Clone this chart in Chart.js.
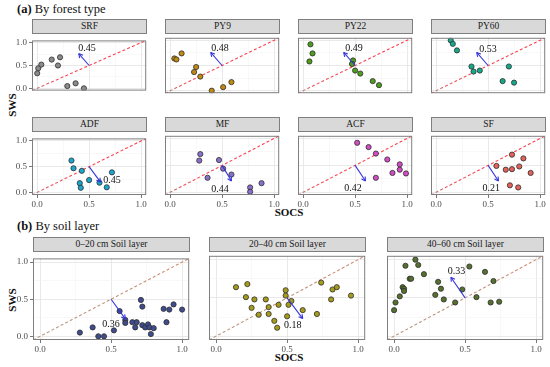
<!DOCTYPE html>
<html><head><meta charset="utf-8">
<script src="https://cdn.jsdelivr.net/npm/chart.js@4.4.1/dist/chart.umd.min.js"></script>
<style>
html,body{margin:0;padding:0;background:#fff;}
body{width:550px;height:367px;position:relative;overflow:hidden;font-family:'Liberation Serif','DejaVu Serif',serif;}
.strip{position:absolute;background:#d9d9d9;border:1px solid #7f7f7f;box-sizing:border-box;font-size:9.5px;color:#1a1a1a;text-align:center;white-space:nowrap;}
canvas{position:absolute;}
.t{position:absolute;white-space:nowrap;color:#111;}
</style></head><body>
<script>
// ---------------- DATA ----------------
const panelNames = ['SRF','PY9','PY22','PY60','ADF','MF','ACF','SF','0–20 cm Soil layer','20–40 cm Soil layer','40–60 cm Soil layer'];
const tickLabels = ['0.0','0.5','1.0'];
const tickValues = [0, 0.5, 1];
const minorValues = [0.25, 0.75];

const srfSOCS = [0.00,0.01,0.04,0.14,0.22,0.20,0.29,0.37,0.45];
const srfSWS  = [0.33,0.44,0.52,0.63,0.68,0.50,0.05,0.11,0.00];
const py9SOCS = [0.04,0.06,0.11,0.25,0.23,0.29,0.40,0.51,0.59];
const py9SWS  = [0.64,0.62,0.74,0.47,0.37,0.28,0.00,0.07,0.17];
const py22SOCS = [0.07,0.09,0.06,0.48,0.47,0.50,0.55,0.67,0.73];
const py22SWS  = [0.92,0.74,0.58,0.60,0.53,0.40,0.34,0.19,0.11];
const py60SOCS = [0.14,0.16,0.20,0.34,0.36,0.42,0.70,0.64,0.75];
const py60SWS  = [1.00,0.93,0.80,0.48,0.38,0.40,0.48,0.19,0.16];
const adfSOCS = [0.33,0.35,0.43,0.41,0.42,0.50,0.60,0.72,0.67];
const adfSWS  = [0.62,0.47,0.42,0.18,0.09,0.24,0.19,0.39,0.10];
const mfSOCS = [0.29,0.28,0.36,0.47,0.51,0.59,0.77,0.77,0.88];
const mfSWS  = [0.71,0.59,0.27,0.60,0.44,0.33,0.09,0.01,0.17];
const acfSOCS = [0.52,0.63,0.70,0.81,0.93,0.93,0.86,0.99,0.70];
const acfSWS  = [0.92,0.84,0.72,0.61,0.52,0.42,0.36,0.35,0.27];
const sfSOCS = [0.73,0.84,0.58,0.67,0.73,0.80,0.91,0.71,0.79];
const sfSWS  = [0.70,0.63,0.49,0.42,0.43,0.48,0.36,0.13,0.09];
const l1SOCS = [0.28,0.37,0.41,0.45,0.52,0.56,0.60,0.60,0.65,0.68,0.67,0.71,0.72,0.72,0.74,0.76,0.77,0.78,0.80,0.87,0.89,0.91,0.94,1.00];
const l1SWS  = [0.05,0.12,0.00,0.00,0.08,0.34,0.22,0.18,0.19,0.19,0.12,0.49,0.40,0.15,0.12,0.16,0.12,0.03,0.11,0.37,0.19,0.36,0.43,0.36];
const l2SOCS = [0.14,0.22,0.21,0.27,0.25,0.30,0.35,0.37,0.37,0.44,0.41,0.43,0.49,0.49,0.53,0.51,0.50,0.61,0.71,0.74,0.82,0.85,0.81,0.95];
const l2SWS  = [0.64,0.68,0.51,0.48,0.37,0.28,0.48,0.38,0.29,0.41,0.20,0.11,0.60,0.53,0.46,0.41,0.26,0.34,0.29,0.70,0.61,0.64,0.48,0.53];
const l3SOCS = [0.15,0.17,0.08,0.21,0.11,0.12,0.06,0.07,0.07,0.04,0.01,0.00,0.31,0.33,0.29,0.35,0.43,0.48,0.53,0.64,0.70,0.58,0.68,0.74];
const l3SWS  = [1.00,0.93,0.92,0.81,0.75,0.75,0.64,0.62,0.59,0.52,0.44,0.34,0.71,0.62,0.54,0.48,0.44,0.61,0.91,0.84,0.72,0.51,0.44,0.45];

const arrowStartX = [0.5,0.5,0.5,0.5,0.5,0.5,0.5,0.5,0.5,0.5,0.5];
const arrowStartY = [0.5,0.5,0.5,0.5,0.5,0.5,0.5,0.5,0.5,0.5,0.5];
const arrowEndX = [0.40,0.39,0.39,0.39,0.61,0.59,0.60,0.60,0.60,0.61,0.40];
const arrowEndY = [0.76,0.76,0.76,0.76,0.20,0.21,0.21,0.21,0.235,0.23,0.77];
const shiftText = ['0.45','0.48','0.49','0.53','0.45','0.44','0.42','0.21','0.36','0.18','0.33'];
const shiftTextX = [0.48,0.48,0.49,0.50,0.72,0.48,0.48,0.53,0.50,0.54,0.44];
const shiftTextY = [0.87,0.84,0.84,0.83,0.24,0.06,0.08,0.07,0.16,0.14,0.85];

const axisMin = -0.05, axisMax = 1.05;

// ---------------- STYLE / LAYOUT ----------------
const socsData = [srfSOCS,py9SOCS,py22SOCS,py60SOCS,adfSOCS,mfSOCS,acfSOCS,sfSOCS,l1SOCS,l2SOCS,l3SOCS];
const swsData  = [srfSWS,py9SWS,py22SWS,py60SWS,adfSWS,mfSWS,acfSWS,sfSWS,l1SWS,l2SWS,l3SWS];
const colors = ['#8a8a8a','#c08a12','#4f9d1c','#15a88a','#1aa6cf','#8a70cc','#d24cc4','#e0625a','#3f4c8e','#a69c1c','#567030'];
const ARROW = '#3535e0';
const FONT = "'Liberation Serif','DejaVu Serif',serif";

const colA = [32,165,298,431];
const colB = [33,209,387];
const geo = [];
for (let i=0;i<8;i++) geo.push({x:colA[i%4], y: i<4?33:131, w:115, h:64, first:i%4===0, showX:i>=4, sec:'a'});
for (let i=0;i<3;i++) geo.push({x:colB[i], y:251, w:157, h:89, first:i===0, showX:true, sec:'b'});

function addDiv(cls, html, style){ const d=document.createElement('div'); d.className=cls; d.innerHTML=html; Object.assign(d.style, style); document.body.appendChild(d); return d; }

addDiv('t','<b>(a)</b> By forest type',{left:'17px',top:'2px',fontSize:'12.5px'});
addDiv('t','<b>(b)</b> By soil layer',{left:'17px',top:'219px',fontSize:'12.5px'});
addDiv('t','SWS',{left:'12px',top:'105px',fontSize:'11px',fontWeight:'bold',transform:'translate(-50%,-50%) rotate(-90deg)'});
addDiv('t','SWS',{left:'12px',top:'300px',fontSize:'11px',fontWeight:'bold',transform:'translate(-50%,-50%) rotate(-90deg)'});
addDiv('t','SOCS',{left:'289px',top:'212px',fontSize:'11px',fontWeight:'bold',transform:'translate(-50%,-50%)'});
addDiv('t','SOCS',{left:'289px',top:'357px',fontSize:'11px',fontWeight:'bold',transform:'translate(-50%,-50%)'});

const deco = {
  id:'deco',
  afterDatasetsDraw(chart, args, opts){
    const {ctx, chartArea:a, scales:{x,y}} = chart;
    const m = chart.getDatasetMeta(0);
    const p0 = m.data[0], p1 = m.data[1];
    const ang = Math.atan2(p1.y-p0.y, p1.x-p0.x);
    const L = 4.5;
    ctx.save();
    ctx.strokeStyle = ARROW; ctx.lineWidth = 1.1;
    ctx.beginPath();
    for (const s of [-1,1]) {
      ctx.moveTo(p1.x, p1.y);
      ctx.lineTo(p1.x - L*Math.cos(ang + s*0.5), p1.y - L*Math.sin(ang + s*0.5));
    }
    ctx.stroke();
    ctx.fillStyle = '#111';
    ctx.font = '10px ' + FONT;
    ctx.textAlign = 'center'; ctx.textBaseline = 'middle';
    ctx.fillText(opts.text, x.getPixelForValue(opts.tx), y.getPixelForValue(opts.ty));
    ctx.strokeStyle = '#7f7f7f'; ctx.lineWidth = 1;
    ctx.strokeRect(a.left+0.5, a.top+0.5, a.width-1, a.height-1);
    ctx.restore();
  }
};

function refColor(sec){
  return (c) => {
    const ch = c.chart, a = ch.chartArea;
    const base = sec==='a' ? '#ff3a48' : '#c9937a';
    if (!a) return base;
    const g = ch.ctx.createLinearGradient(a.left, a.bottom, a.right, a.top);
    if (sec==='a') { g.addColorStop(0,'#a08a80'); g.addColorStop(0.15,'#f2505e'); g.addColorStop(1,'#ff3a48'); }
    else { g.addColorStop(0,'#b89a88'); g.addColorStop(1,'#d08a70'); }
    return g;
  };
}

geo.forEach((g, i) => {
  const Lm = g.first ? g.x : 12;
  const Bm = g.showX ? 18 : 1;
  const Rm = 4;
  addDiv('strip', panelNames[i], {left:g.x+'px', top:(g.y-14)+'px', width:g.w+'px', height:'15px', lineHeight:'13px'});
  const cv = document.createElement('canvas');
  const W = g.w + Lm + Rm, H = g.h + Bm;
  cv.width = W; cv.height = H;
  cv.style.width = W+'px'; cv.style.height = H+'px';
  cv.style.left = (g.x - Lm)+'px'; cv.style.top = g.y+'px';
  document.body.appendChild(cv);

  const pts = socsData[i].map((v,k)=>({x:v, y:swsData[i][k]}));
  const arrow = [{x:arrowStartX[i], y:arrowStartY[i]}, {x:arrowEndX[i], y:arrowEndY[i]}];
  const ref = [{x:axisMin, y:axisMin}, {x:axisMax, y:axisMax}];

  const gridColor = c => (c.tick && minorValues.includes(c.tick.value)) ? '#f3f3f3' : '#e6e6e6';
  const gridWidth = c => (c.tick && minorValues.includes(c.tick.value)) ? 0.6 : 0.9;
  const tickColor = c => (c.tick && minorValues.includes(c.tick.value)) ? 'rgba(0,0,0,0)' : '#555';
  const tickCb = v => { const k = tickValues.indexOf(v); return k>=0 ? tickLabels[k] : ''; };
  const setTicks = s => { s.ticks = tickValues.concat(minorValues).sort().map(v=>({value:v})); };

  new Chart(cv, {
    type:'scatter',
    data:{datasets:[
      {data:arrow, showLine:true, borderColor:ARROW, borderWidth:1.1, pointRadius:0, order:0, clip:0},
      {data:pts, backgroundColor:colors[i], borderColor:'#2e2e2e', borderWidth:0.8, pointRadius:2.6, order:1, clip:0},
      {data:ref, showLine:true, borderColor:refColor(g.sec), borderDash:[3,2.2], borderWidth:1.1, pointRadius:0, order:2, clip:0}
    ]},
    options:{
      responsive:false, animation:false, devicePixelRatio:1,
      layout:{padding:{left:0,right:Rm,top:0,bottom:0}},
      plugins:{legend:{display:false}, tooltip:{enabled:false},
        deco:{text:shiftText[i], tx:shiftTextX[i], ty:shiftTextY[i]}},
      scales:{
        x:{type:'linear', min:axisMin, max:axisMax,
           afterBuildTicks:setTicks,
           afterFit:s=>{s.height=Bm; s.paddingLeft=0; s.paddingRight=0;},
           grid:{color:gridColor, lineWidth:gridWidth, drawTicks:g.showX, tickLength:3, tickColor:tickColor, tickWidth:0.8},
           border:{display:false},
           ticks:{display:g.showX, autoSkip:false, maxRotation:0, padding:1, color:'#4d4d4d', font:{family:FONT,size:9}, callback:tickCb}},
        y:{type:'linear', min:axisMin, max:axisMax,
           afterBuildTicks:setTicks,
           afterFit:s=>{s.width=Lm;},
           grid:{color:gridColor, lineWidth:gridWidth, drawTicks:g.first, tickLength:3, tickColor:tickColor, tickWidth:0.8},
           border:{display:false},
           ticks:{display:g.first, autoSkip:false, padding:2, color:'#4d4d4d', font:{family:FONT,size:9}, callback:tickCb}}
      }
    },
    plugins:[deco]
  });
});
</script>
</body></html>
